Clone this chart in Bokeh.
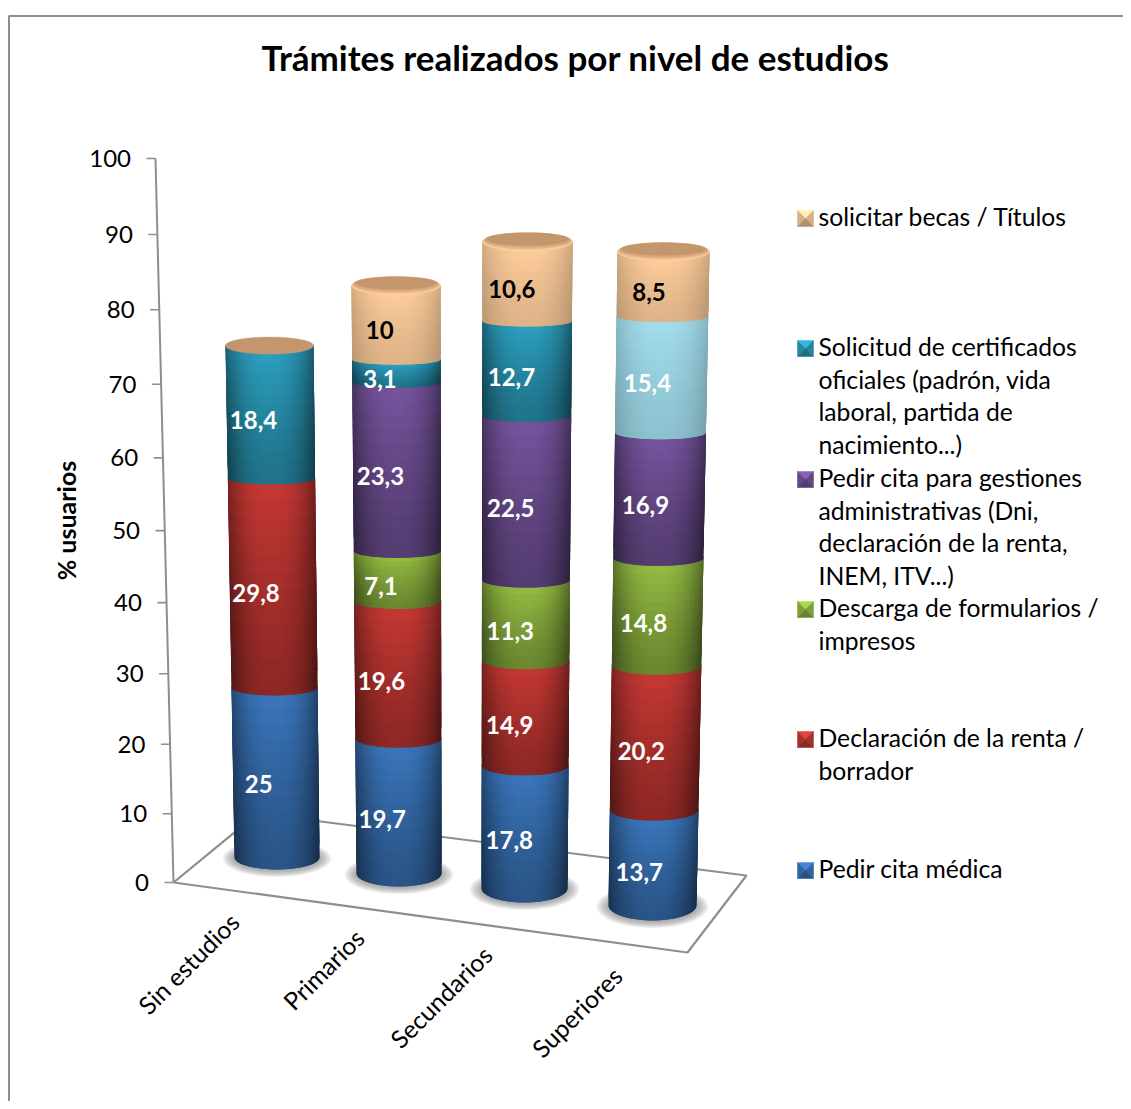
from math import cos, sin, pi
from bokeh.plotting import figure
from bokeh.models import Range1d
from bokeh.core.properties import value
from bokeh.embed import file_html
from bokeh.resources import INLINE

# ---- data ----
title = "Trámites realizados por nivel de estudios"
y_label = "% usuarios"
categories = ["Sin estudios", "Primarios", "Secundarios", "Superiores"]
y_ticks = [0, 10, 20, 30, 40, 50, 60, 70, 80, 90, 100]
series_names = ["Pedir cita médica", "Declaración de la renta / borrador",
                "Descarga de formularios / impresos",
                "Pedir cita para gestiones administrativas (Dni, declaración de la renta, INEM, ITV...)",
                "Solicitud de certificados oficiales (padrón, vida laboral, partida de nacimiento...)",
                "solicitar becas / Títulos"]
pedir_cita_medica = [25, 19.7, 17.8, 13.7]
declaracion_renta = [29.8, 19.6, 14.9, 20.2]
descarga_formularios = [0, 7.1, 11.3, 14.8]
pedir_cita_gestiones = [0, 23.3, 22.5, 16.9]
solicitud_certificados = [18.4, 3.1, 12.7, 15.4]
solicitar_becas = [0, 10, 10.6, 8.5]
all_series = [pedir_cita_medica, declaracion_renta, descarga_formularios,
              pedir_cita_gestiones, solicitud_certificados, solicitar_becas]

# ---- styles ----
FONT = value("Lato")
GREY = "#8e8e8e"
colors = [(58, 118, 188), (198, 56, 52), (148, 188, 66), (118, 84, 158), (44, 160, 192), (255, 206, 156)]
light_blue = (162, 222, 238)
cap_brown = (196, 150, 110)

legend_lines = [
    ["solicitar becas / Títulos"],
    ["Solicitud de certificados", "oficiales (padrón, vida", "laboral, partida de", "nacimiento...)"],
    ["Pedir cita para gestiones", "administrativas (Dni,", "declaración de la renta,", "INEM, ITV...)"],
    ["Descarga de formularios /", "impresos"],
    ["Declaración de la renta /", "borrador"],
    ["Pedir cita médica"],
]
legend_y = [217, 347, 478, 608, 738, 869]
legend_colors = [colors[5], colors[4], colors[3], colors[2], colors[1], colors[0]]
LEG_STEP = 32.7

# perspective of each column (base centre, top centre, half widths, base y, vertical scale, base ellipse)
geo_x0 = [276.5, 398.5, 524, 652]
geo_xt = [269, 395.5, 527, 663]
geo_a0 = [42.5, 42.5, 43, 44]
geo_at = [44, 44.5, 45, 46]
geo_y0 = [857, 873, 888, 905]
geo_H = [710, 717, 724.5, 735]
geo_b0 = [12, 13, 14, 15]
label_dx = [-17, -16.5, -15.5, -14]
cat_anchor = [(234, 917), (359, 933), (487, 950), (617, 971)]


def f(v):
    return 0.00944 * v + 5.6e-6 * v * v


def hexc(c):
    return "#%02x%02x%02x" % tuple(int(max(0, min(255, round(k)))) for k in c)


def shade(c, k):
    return hexc([x * k for x in c])


p = figure(width=1123, height=1101, x_range=Range1d(0, 1123), y_range=Range1d(1101, 0),
           min_border=0, toolbar_location=None, output_backend="svg",
           x_axis_location=None, y_axis_location=None, outline_line_color=None)
p.grid.visible = False
p.background_fill_color = "white"

# chart border
p.line([1123, 8.5, 8.5], [15.5, 15.5, 1101], line_color=GREY, line_width=2)

# floor
fl = [(173, 882), (687, 952), (746, 875), (257, 813), (173, 882)]
p.line([q[0] for q in fl], [q[1] for q in fl], line_color=GREY, line_width=2.2)


# value axis
def ax_x(v):
    return 173 - 0.18 * v


def ax_y(v):
    return 882 - 724 * f(v)


p.line([ax_x(0), ax_x(100)], [ax_y(0), ax_y(100)], line_color=GREY, line_width=2)
p.segment([ax_x(v) - 9 for v in y_ticks], [ax_y(v) for v in y_ticks],
          [ax_x(v) for v in y_ticks], [ax_y(v) for v in y_ticks], line_color=GREY, line_width=1.6)
p.text([ax_x(v) - 24.5 for v in y_ticks], [ax_y(v) for v in y_ticks], [str(v) for v in y_ticks],
       text_font=FONT, text_font_size="24px", text_align="right", text_baseline="middle", text_color="black")

# ground shadows
sx, sy, sc, sa = [], [], [], []
for i in range(4):
    for k in range(8):
        g = 12 - k * 1.5
        pts = [j * 2 * pi / 48 for j in range(48)]
        sx.append([geo_x0[i] + (geo_a0[i] + g) * cos(t) for t in pts])
        sy.append([geo_y0[i] + 1 + (geo_b0[i] + g * 0.55) * sin(t) for t in pts])
        sc.append("#6a6a6a")
        sa.append(0.09)
p.patches(sx, sy, fill_color=sc, fill_alpha=sa, line_color=None)

# cylinders: overlapping quads painted bottom-up and left to right, so no seams show
NC, NR = 32, 12
px, py, pc = [], [], []


def geom(i, v, vtop):
    fr = f(v) / f(vtop)
    cx = geo_x0[i] + (geo_xt[i] - geo_x0[i]) * fr
    a = geo_a0[i] + (geo_at[i] - geo_a0[i]) * fr
    ye = geo_y0[i] - geo_H[i] * f(v)
    b = geo_b0[i] if v == 0 else geo_b0[i] * (0.8 - 0.0055 * v)
    return cx, a, ye, b


labels_x, labels_y, labels_t, labels_c = [], [], [], []
for i in range(4):
    vals = [s[i] for s in all_series]
    vtop = sum(vals)
    base = 0.0
    for j, val in enumerate(vals):
        if val == 0:
            continue
        col = light_blue if (j == 4 and i == 3) else colors[j]
        soft = 0.45 if col in (colors[5], light_blue) else 1.0
        g0, g1 = geom(i, base, vtop), geom(i, base + val, vtop)
        is_top = abs(base + val - vtop) < 1e-9
        for r in range(NR):
            s0, s1 = r / NR, (r + 1) / NR
            sm = (s0 + s1) / 2
            s1x = s1 + 1 / NR
            if is_top:
                s1x = min(s1x, 1.0)
            elif r == NR - 1:
                s1x = 1.0 + 1.5 / max(g0[2] - g1[2], 1)
            elif s1x > 1.0:
                s1x = 1.0
            for c in range(NC):
                th0 = pi - pi * c / NC
                th1 = pi - pi * (c + 1) / NC
                th1x = max(th1 - pi / NC, 0.0)
                tm = cos((th0 + th1) / 2)
                quad_x, quad_y = [], []
                for th, s in ((th0, s0), (th1x, s0), (th1x, s1x), (th0, s1x)):
                    xb, yb = g0[0] + g0[1] * cos(th), g0[2] + g0[3] * sin(th)
                    xt, yt = g1[0] + g1[1] * cos(th), g1[2] + g1[3] * sin(th)
                    quad_x.append(xb + (xt - xb) * s)
                    quad_y.append(yb + (yt - yb) * s)
                h = 1 - 0.40 * abs(tm + 0.02) ** 2.4 * (1 + 0.15 * (1 - sm))
                w = 0.72 + 0.28 * sm ** 1.3
                k = h * w
                k = 1 - (1 - k) * soft
                px.append(quad_x)
                py.append(quad_y)
                pc.append(shade(col, k))
        mid = base + val / 2
        gm = geom(i, mid, vtop)
        labels_x.append(gm[0] + label_dx[i])
        labels_y.append(gm[2] + gm[3] + 2.5)
        labels_t.append(str(val).replace(".", ","))
        labels_c.append("black" if j == 5 else "white")
        base += val
p.patches(px, py, fill_color=pc, line_color=None)

# top caps
cx_, cy_, cc_ = [], [], []
pts = [j * 2 * pi / 60 for j in range(60)]
for i in range(4):
    vtop = sum(s[i] for s in all_series)
    cx, a, ye, b = geom(i, vtop, vtop)
    if solicitar_becas[i] == 0:
        cx_.append([cx + a * cos(t) for t in pts])
        cy_.append([ye + 8.5 * sin(t) for t in pts])
        cc_.append(hexc(cap_brown))
    else:
        for (da, dy, bb, col) in ((0, 0, 9, colors[5]), (-1, -0.5, 8, (232, 184, 138)),
                                  (-2, -1.5, 7.2, (214, 168, 124)), (-4, -2.5, 6.2, cap_brown)):
            cx_.append([cx + (a + da) * cos(t) for t in pts])
            cy_.append([ye + dy + bb * sin(t) for t in pts])
            cc_.append(hexc(col))
p.patches(cx_, cy_, fill_color=cc_, line_color=cc_, line_width=0.5)

# data labels
p.text(labels_x, labels_y, labels_t, text_color=labels_c, text_font=FONT, text_font_style="bold",
       text_font_size="24px", text_align="center", text_baseline="middle")

# category labels
p.text([q[0] for q in cat_anchor], [q[1] for q in cat_anchor], categories, angle=pi / 4,
       text_font=FONT, text_font_size="24.7px", text_align="right", text_baseline="middle", text_color="black")

# title and axis label
p.text([575], [56], [title], text_font=FONT, text_font_style="bold", text_font_size="35px",
       text_align="center", text_baseline="middle", text_color="black")
p.text([65], [520], [y_label], angle=pi / 2, text_font=FONT, text_font_style="bold",
       text_font_size="25px", text_align="center", text_baseline="middle", text_color="black")

# legend
lx, ly, lc = [], [], []
tx, ty, tt = [], [], []
for y, col, lines in zip(legend_y, legend_colors, legend_lines):
    x0, x1, y0, y1 = 797, 813, y - 8 + 1, y + 8 + 1
    xm, ym = (x0 + x1) / 2, (y0 + y1) / 2
    for tri, k in (([(x0, y0), (x1, y0), (xm, ym)], 1.15), ([(x0, y0), (x0, y1), (xm, ym)], 0.85),
                   ([(x1, y0), (x1, y1), (xm, ym)], 0.85), ([(x0, y1), (x1, y1), (xm, ym)], 0.7)):
        lx.append([q[0] for q in tri])
        ly.append([q[1] for q in tri])
        lc.append(shade(col, k))
    for n, line in enumerate(lines):
        tx.append(818)
        ty.append(y - 1 + n * LEG_STEP)
        tt.append(line)
p.patches(lx, ly, fill_color=lc, line_color=lc, line_width=0.5)
p.text(tx, ty, tt, text_font=FONT, text_font_size="24.7px", text_align="left", text_baseline="middle", text_color="black")

open("out.html", "w").write(file_html(p, INLINE))
